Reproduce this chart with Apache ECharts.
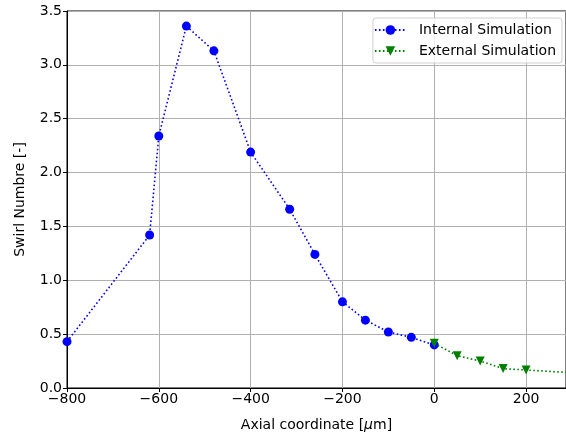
<!DOCTYPE html>
<html>
<head>
    <meta charset="UTF-8">
    <title>Swirl Number</title>
    <style>
        html, body {
            margin: 0;
            padding: 0;
            background: #fff;
        }
        #main {
            width: 566px;
            height: 439px;
        }
    </style>
</head>
<body>
<div id="main"></div>
<script src="https://cdn.jsdelivr.net/npm/echarts@6/dist/echarts.min.js"></script>
<script>
    // data
    var internalX = [-800, -620, -600, -540, -480, -400, -315, -260, -200, -150, -100, -50, 0];
    var internalY = [0.43, 1.42, 2.34, 3.36, 3.13, 2.19, 1.66, 1.24, 0.80, 0.63, 0.52, 0.47, 0.40];
    var externalX = [0, 50, 100, 150, 200, 300];
    var externalY = [0.415, 0.30, 0.25, 0.18, 0.167, 0.142];
    var xTicks = [-800, -600, -400, -200, 0, 200];
    var yTicks = [0, 0.5, 1, 1.5, 2, 2.5, 3, 3.5];

    function pairs(xs, ys) {
        var out = [];
        for (var i = 0; i < xs.length; i++) {
            out.push([xs[i], ys[i]]);
        }
        return out;
    }

    var font = 'DejaVu Sans';
    var fs = 14;
    var myChart = echarts.init(document.getElementById('main'), null, {renderer: 'canvas'});

    var option = {
        animation: false,
        backgroundColor: '#fff',
        textStyle: {fontFamily: font},
        grid: {
            left: 67,
            top: 11,
            width: 500,
            height: 377,
            show: true,
            borderColor: '#000',
            borderWidth: 1
        },
        legend: {
            orient: 'vertical',
            right: 4,
            top: 18,
            padding: [5, 6, 5, 1],
            itemWidth: 31,
            itemHeight: 12,
            itemGap: 7,
            borderColor: '#d0d0d0',
            borderWidth: 1,
            borderRadius: 3,
            backgroundColor: 'rgba(255,255,255,0.8)',
            textStyle: {fontFamily: font, fontSize: fs, color: '#000', padding: [0, 0, 0, 8]},
            data: ['Internal Simulation', 'External Simulation']
        },
        xAxis: {
            type: 'value',
            min: -800,
            max: -800 + 500 / 0.46,
            interval: 200,
            name: 'Axial coordinate [{i|μ}m]',
            nameLocation: 'middle',
            nameGap: 30,
            nameTextStyle: {
                fontFamily: font, fontSize: fs, color: '#000',
                rich: {i: {fontFamily: font, fontSize: fs, fontStyle: 'italic', color: '#000'}}
            },
            axisLine: {onZero: false, lineStyle: {color: '#000', width: 1}},
            axisTick: {show: true, inside: false, length: 4, lineStyle: {color: '#000'}},
            axisLabel: {
                fontFamily: font, fontSize: fs, color: '#000', margin: 4,
                showMaxLabel: false,
                formatter: function (v) {
                    if (xTicks.indexOf(v) < 0) return '';
                    return String(v).replace('-', '\u2212');
                }
            },
            splitLine: {show: true, lineStyle: {color: '#b0b0b0', width: 1}}
        },
        yAxis: {
            type: 'value',
            min: 0,
            max: 3.5,
            interval: 0.5,
            name: 'Swirl Numbre [-]',
            nameLocation: 'middle',
            nameGap: 40,
            nameTextStyle: {fontFamily: font, fontSize: fs, color: '#000'},
            axisLine: {show: true, onZero: false, lineStyle: {color: '#000', width: 1}},
            axisTick: {show: true, inside: false, length: 4, lineStyle: {color: '#000'}},
            axisLabel: {
                fontFamily: font, fontSize: fs, color: '#000', margin: 5,
                formatter: function (v) {
                    if (yTicks.indexOf(v) < 0) return '';
                    return v.toFixed(1);
                }
            },
            splitLine: {show: true, lineStyle: {color: '#b0b0b0', width: 1}}
        },
        series: [
            {
                name: 'Internal Simulation',
                type: 'line',
                data: pairs(internalX, internalY),
                symbol: 'circle',
                symbolSize: 9,
                itemStyle: {color: '#0000ff'},
                lineStyle: {color: '#0000ff', width: 1.6, type: [1.6, 2.4]},
                z: 3
            },
            {
                name: 'External Simulation',
                type: 'line',
                data: pairs(externalX, externalY),
                symbol: 'triangle',
                symbolRotate: 180,
                symbolSize: 9,
                itemStyle: {color: '#008000'},
                lineStyle: {color: '#008000', width: 1.6, type: [1.6, 2.4]},
                z: 4
            }
        ]
    };

    myChart.setOption(option);
</script>
</body>
</html>
